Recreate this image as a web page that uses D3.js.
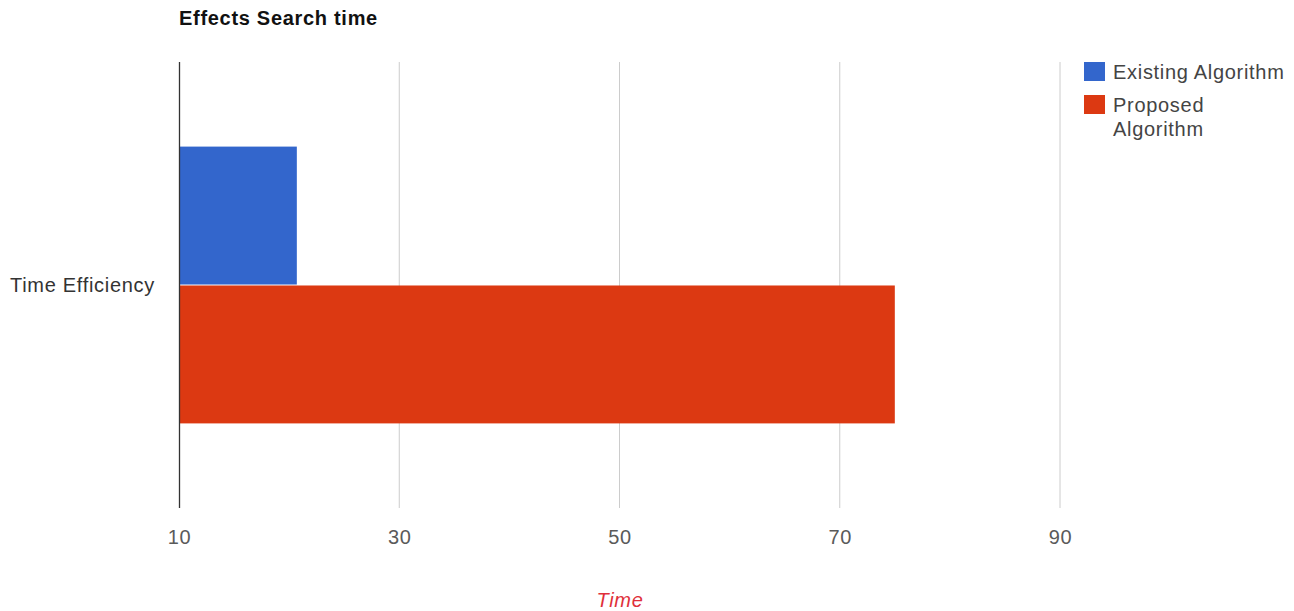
<!DOCTYPE html>
<html><head><meta charset="utf-8">
<script src="https://cdn.jsdelivr.net/npm/d3@7"></script>
<style>body{margin:0;background:#fff;} svg{display:block;font-family:"Liberation Sans",Arial,sans-serif;} text{letter-spacing:0.7px;}</style>
</head><body>
<svg id="chart" width="1294" height="611"></svg>
<script>
const categories = ["Time Efficiency"];
const seriesNames = ["Existing Algorithm", "Proposed Algorithm"];
const existingValues = [20.7];
const proposedValues = [75];
const tickValues = [10, 30, 50, 70, 90];
const colors = ["#3366cc", "#dc3912"];

const FONT = '"Liberation Sans",Arial,sans-serif';
const svg = d3.select("#chart");
const x = d3.scaleLinear().domain([10, 90]).range([179, 1060]);
const y = d3.scaleBand().domain(categories).range([62, 508]).paddingInner(0).paddingOuter(0.3);
const ySub = d3.scaleBand().domain(seriesNames).range([0, y.bandwidth()]).padding(0.007);

// gridlines
svg.append("g").selectAll("line").data(tickValues.slice(1)).join("line")
  .attr("x1", d => x(d)).attr("x2", d => x(d)).attr("y1", 62).attr("y2", 508)
  .attr("stroke", "#cccccc").attr("stroke-width", 1);

// bars
const data = [];
categories.forEach((c, i) => {
  data.push({cat: c, s: seriesNames[0], v: existingValues[i], col: colors[0]});
  data.push({cat: c, s: seriesNames[1], v: proposedValues[i], col: colors[1]});
});
svg.append("g").selectAll("rect").data(data).join("rect")
  .attr("x", x(10))
  .attr("y", d => y(d.cat) + ySub(d.s))
  .attr("width", d => x(d.v) - x(10))
  .attr("height", ySub.bandwidth())
  .attr("fill", d => d.col);

// axis line
svg.append("line").attr("x1", x(10) + 0.5).attr("x2", x(10) + 0.5).attr("y1", 62).attr("y2", 508)
  .attr("stroke", "#333").attr("stroke-width", 1.3);

// x tick labels
const xAxis = d3.axisBottom(x).tickValues(tickValues).tickSize(0).tickPadding(0);
const gx = svg.append("g").attr("transform", "translate(0,544)").call(xAxis);
gx.select(".domain").remove();
gx.selectAll("text").attr("font-size", 20).attr("fill", "#5a5a5a").attr("dy", null)
  .attr("font-family", FONT);

// y category label
const yAxis = d3.axisLeft(y).tickSize(0).tickPadding(0);
const gy = svg.append("g").attr("transform", "translate(155,0)").call(yAxis);
gy.select(".domain").remove();
gy.selectAll("text").attr("font-size", 20).attr("fill", "#333").attr("dy", "0.35em")
  .attr("font-family", FONT);

// title
svg.append("text").attr("x", 179).attr("y", 25).text("Effects Search time")
  .attr("font-size", 20).attr("font-weight", "bold").attr("fill", "#111");

// x axis title
svg.append("text").attr("x", 620).attr("y", 607).attr("text-anchor", "middle")
  .attr("font-size", 20).attr("font-style", "italic").attr("fill", "#e0303a").text("Time");

// legend
const legend = svg.append("g");
const legendLines = [["Existing Algorithm"], ["Proposed", "Algorithm"]];
const legendY = [62, 95];
seriesNames.forEach((s, i) => {
  legend.append("rect").attr("x", 1084).attr("y", legendY[i]).attr("width", 21).attr("height", 19).attr("fill", colors[i]);
  legendLines[i].forEach((t, j) => {
    legend.append("text").attr("x", 1113).attr("y", legendY[i] + 17 + j * 24)
      .attr("font-size", 20).attr("fill", "#444").text(t);
  });
});
</script>
</body></html>
